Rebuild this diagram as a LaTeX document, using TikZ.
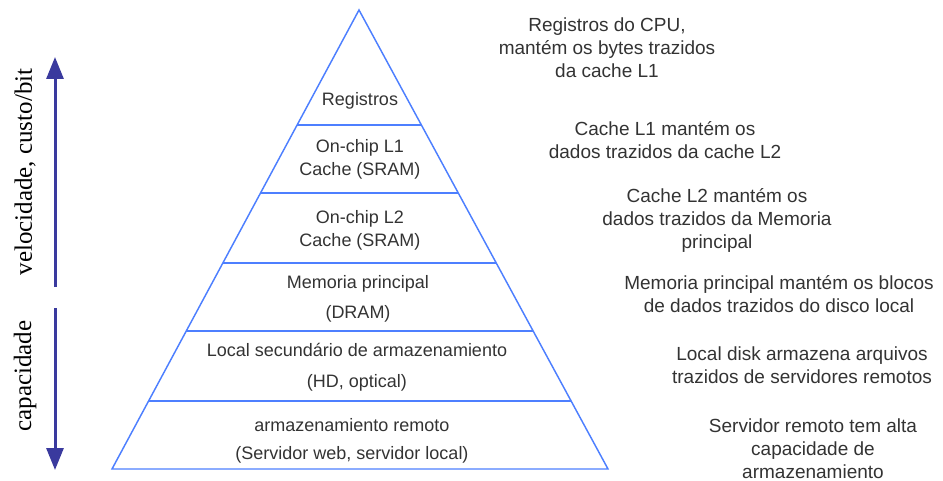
\documentclass[tikz,border=0pt]{standalone}
\usepackage{fontspec}
\setmainfont{Liberation Serif}
\newfontfamily\arialfont{Liberation Sans}
\usepackage{tikz}
\usetikzlibrary{positioning, calc, arrows.meta}

\definecolor{pyrblue}{HTML}{4D7FFF}
\definecolor{axisblue}{HTML}{3A3A9E}
\definecolor{txtgray}{HTML}{333333}

\tikzset{
	pyr/.style={draw=pyrblue, line width=1.1pt, line join=miter},
	level/.style={font=\arialfont\fontsize{13.5}{17.25}\selectfont, text=txtgray, align=center, inner sep=0pt},
	note/.style={font=\arialfont\fontsize{14.25}{17.25}\selectfont, text=txtgray, align=center, inner sep=0pt},
	axislabel/.style={font=\fontsize{18.75}{22}\selectfont, rotate=90, inner sep=0pt},
	axisarrow/.style={draw=axisblue, line width=2.25pt, -{Triangle[length=16.5pt, width=12.75pt]}}
}

\begin{document}
\begin{tikzpicture}[x=0.75pt, y=-0.75pt]
			
			\useasboundingbox (0,0) rectangle (943,481);
			
			% pyramid outline
			\coordinate (top) at (359,10);
			\coordinate (bl) at (112,469);
			\coordinate (br) at (608,469);
			\draw[pyr] (top) -- (bl) -- (br) -- cycle;
			
			\foreach \f in {0.2505, 0.3987, 0.5512, 0.6993, 0.8519}
			\draw[pyr] ($(top)!\f!(bl)$) -- ($(top)!\f!(br)$);
			
			% levels
			\node[level] (reg) at (360,101) {Registros};
			\node[level] (lone) at (360,159) {On-chip L1\\Cache (SRAM)};
			\node[level] (ltwo) at (360,230) {On-chip L2\\Cache (SRAM)};
			\node[level] (dram) at (358,299) {Memoria principal\\[5pt](DRAM)};
			\node[level] (disk) at (357,367) {Local secundário de armazenamiento\\[6pt](HD, optical)};
			\node[level] (remote) at (352,441) {armazenamiento remoto\\[4pt](Servidor web, servidor local)};
			
			% notes on the right
			\node[note] (regnote) at (607,48) {Registros do CPU,\\mantém os bytes trazidos\\da cache L1};
			\node[note] (lonenote) at (665,140) {Cache L1 mantém os\\dados trazidos da cache L2};
			\node[note] (ltwonote) at (717,220) {Cache L2 mantém os\\dados trazidos da Memoria\\principal};
			\node[note] (dramnote) at (779,294) {Memoria principal mantém os blocos\\de dados trazidos do disco local};
			\node[note] (disknote) at (802,365) {Local disk armazena arquivos\\trazidos de servidores remotos};
			\node[note] (remotenote) at (813,449) {Servidor remoto tem alta\\capacidade de\\armazenamiento};
			
			% axis on the left
			\coordinate (upfrom) at (55,287);
			\coordinate (upto) at (55,57);
			\coordinate (downfrom) at (55,308);
			\coordinate (downto) at (55,470);
			\draw[axisarrow] (upfrom) -- (upto);
			\draw[axisarrow] (downfrom) -- (downto);
			
			\node[axislabel] (speed) at (25,172) {velocidade, custo/bit};
			\node[axislabel] (capacity) at (25,376) {capacidade};
			\end{tikzpicture}
\end{document}
